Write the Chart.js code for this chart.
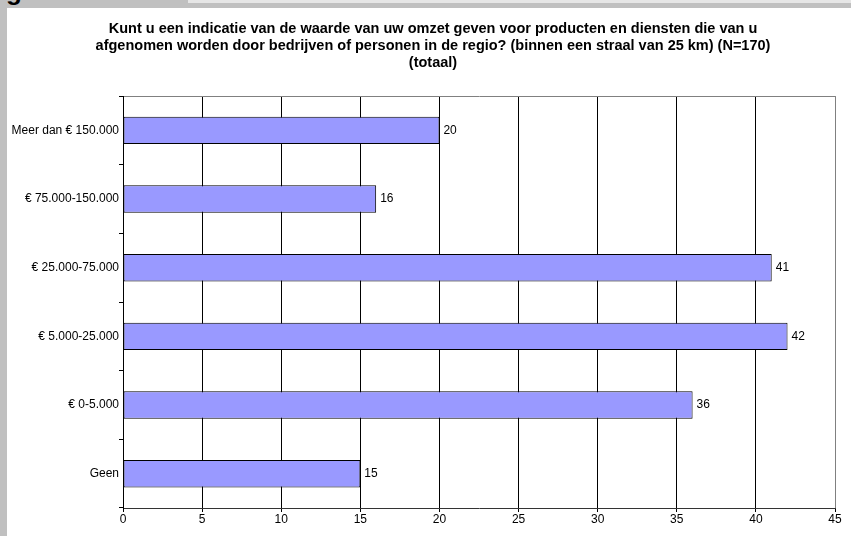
<!DOCTYPE html>
<html>
<head>
<meta charset="utf-8">
<script src="https://cdn.jsdelivr.net/npm/chart.js@4"></script>
<style>
    body { margin: 0; background: #fff; width: 851px; height: 536px; overflow: hidden; position: relative; font-family: "Liberation Sans", Arial, sans-serif; }
    .frame-left { position: absolute; left: 0; top: 0; width: 7px; height: 536px; background: #c0c0c0; }
    .frame-top { position: absolute; left: 0; top: 0; width: 851px; height: 8px; background: #c0c0c0; border-top: 3px solid #e6e6e6; box-sizing: border-box; }
    .frame-tab { position: absolute; left: 0; top: 0; width: 188px; height: 8px; background: #c0c0c0; overflow: hidden; }
    .frame-tab span { position: absolute; left: 6px; top: -22px; font-size: 26px; font-weight: bold; color: #000; line-height: 26px; }
    #chart { position: absolute; left: 7px; top: 8px; }
</style>
</head>
<body>
<div class="frame-left"></div>
<div class="frame-top"></div>
<div class="frame-tab"><span>g</span></div>
<canvas id="chart" width="844" height="528"></canvas>
<script>
// Data
const categories = ['Meer dan € 150.000', '€ 75.000-150.000', '€ 25.000-75.000', '€ 5.000-25.000', '€ 0-5.000', 'Geen'];
const values = [20, 16, 41, 42, 36, 15];
const titleLines = [
    'Kunt u een indicatie van de waarde van uw omzet geven voor producten en diensten die van u',
    'afgenomen worden door bedrijven of personen in de regio? (binnen een straal van 25 km) (N=170)',
    '(totaal)'
];
const xMin = 0;
const xMax = 45;
const xStep = 5;

const fontFamily = '"Liberation Sans", Arial, sans-serif';

// value labels next to each bar
const barLabels = {
    id: 'barLabels',
    afterDatasetsDraw(chart) {
        const ctx = chart.ctx;
        const meta = chart.getDatasetMeta(0);
        ctx.save();
        ctx.font = '12px ' + fontFamily;
        ctx.fillStyle = '#000';
        ctx.textAlign = 'left';
        ctx.textBaseline = 'middle';
        meta.data.forEach((bar, i) => {
            ctx.fillText(String(values[i]), bar.x + 4, bar.y);
        });
        ctx.restore();
    }
};

new Chart(document.getElementById('chart'), {
    type: 'bar',
    data: {
        labels: categories,
        datasets: [{
            data: values,
            backgroundColor: '#9999ff',
            borderColor: '#000',
            borderWidth: 1,
            borderSkipped: false,
            categoryPercentage: 1,
            barPercentage: 0.4
        }]
    },
    options: {
        indexAxis: 'y',
        responsive: false,
        animation: false,
        layout: {
            padding: { left: 24, right: 16, top: 0, bottom: 8 }
        },
        plugins: {
            legend: { display: false },
            tooltip: { enabled: false },
            title: {
                display: true,
                text: titleLines,
                color: '#000',
                font: { family: fontFamily, size: 14.5, weight: 'bold', lineHeight: 1.16 },
                padding: { top: 13, bottom: 24.6 }
            }
        },
        scales: {
            x: {
                min: xMin,
                max: xMax,
                afterFit: scale => { scale.height = 20; },
                ticks: {
                    stepSize: xStep,
                    color: '#000',
                    padding: 0,
                    font: { family: fontFamily, size: 12 }
                },
                grid: {
                    color: ctx => ctx.index === 0 ? 'rgba(0,0,0,0)' : (ctx.tick && ctx.tick.value === xMax ? '#808080' : '#000'),
                    tickColor: '#000',
                    tickLength: 4,
                    lineWidth: 1
                },
                border: { color: '#333', width: 1 }
            },
            y: {
                afterFit: scale => {
                    scale.width = 92;
                    // long labels reach past the padding, don't clip them
                    scale._computeLabelArea = () => undefined;
                },
                ticks: {
                    color: '#000',
                    padding: 0,
                    font: { family: fontFamily, size: 12 }
                },
                grid: {
                    offset: true,
                    color: ctx => ctx.index === 0 ? '#808080' : 'rgba(0,0,0,0)',
                    tickColor: '#000',
                    tickLength: 4,
                    lineWidth: 1
                },
                border: { color: '#000', width: 1 }
            }
        }
    },
    plugins: [barLabels]
});
</script>
</body>
</html>
